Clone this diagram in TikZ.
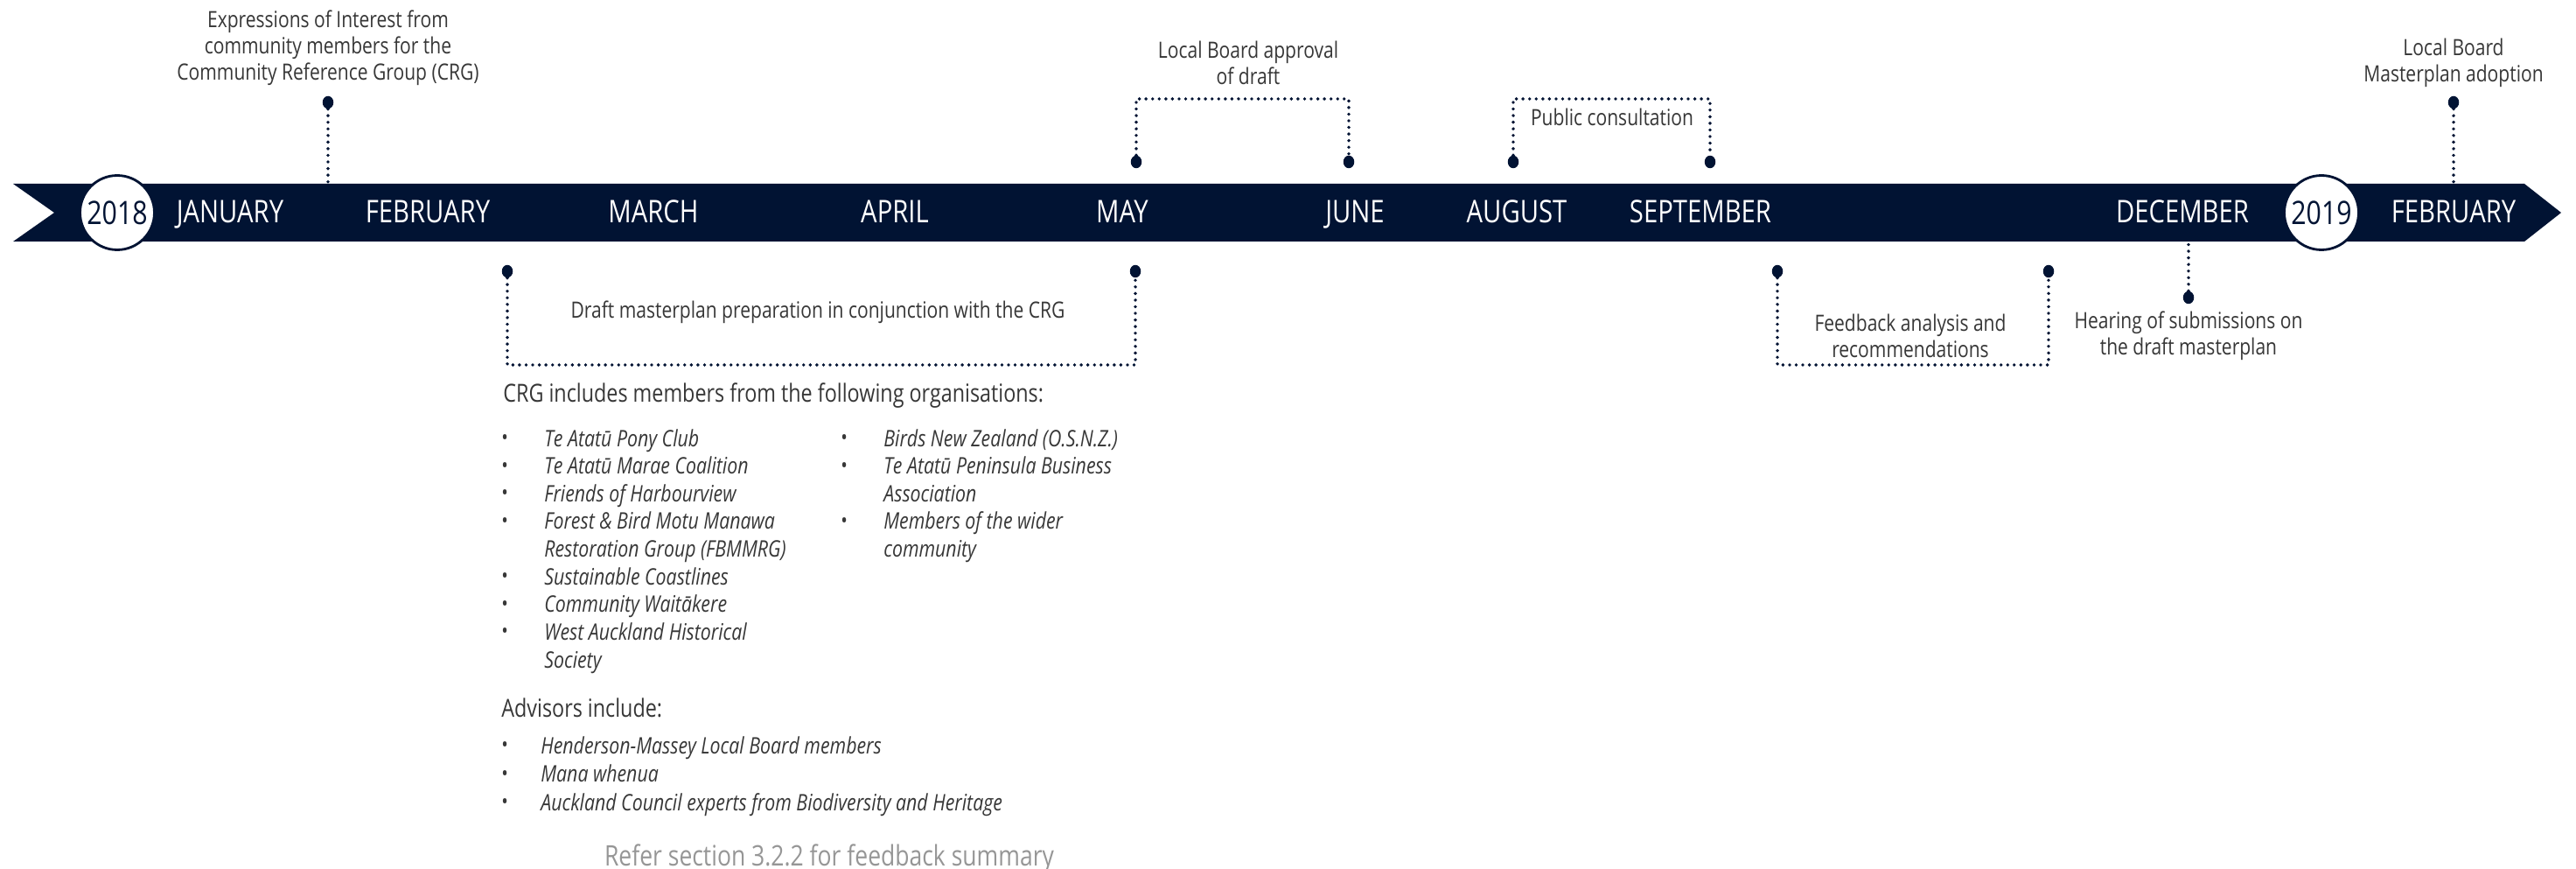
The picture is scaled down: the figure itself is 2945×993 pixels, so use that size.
\documentclass[tikz,border=0pt]{standalone}
\usepackage{fontspec}
\usepackage{array}
\setmainfont{Open Sans}[FakeStretch=0.82]
\usetikzlibrary{shapes.geometric, positioning}

\definecolor{navy}{RGB}{1,19,51}
\definecolor{ink}{RGB}{55,55,55}
\definecolor{notegray}{RGB}{150,150,150}

\newcommand{\bul}{\raisebox{0.1ex}{\fontsize{14}{14}\selectfont\textbullet}}

\begin{document}
\begin{tikzpicture}[
  x=0.02cm, y=-0.02cm,
  month/.style={text=white, anchor=base, inner sep=0, font=\fontsize{20.3}{22}\selectfont},
  year/.style={circle, draw=navy, line width=1.6pt, fill=white, minimum size=1.7cm,
    inner sep=0, text=navy, font=\fontsize{21}{22}\selectfont},
  pin/.style={ellipse, fill=navy, minimum width=0.25cm, minimum height=0.29cm, inner sep=0},
  dotline/.style={navy, line width=2.2pt, line cap=round, dash pattern=on 0pt off 4.3pt},
  note/.style={text=ink, align=center, inner sep=0, font=\fontsize{14.6}{17}\selectfont},
  listtext/.style={text=ink, anchor=base west, inner sep=0, font=\fontsize{14.8}{18}\selectfont},
  introtext/.style={text=ink, anchor=base west, inner sep=0, font=\fontsize{16.2}{18}\selectfont}
]
\useasboundingbox (0,0) rectangle (2945,993);

% the banner
\fill[navy] (15,210) -- (2886,210) -- (2928,243) -- (2886,276) -- (15,276) -- (62,243) -- cycle;

\node[year] (y2018) at (134,243) {2018};
\node[year] (y2019) at (2654,243) {2019};

\node[month] (jan) at (263,255) {JANUARY};
\node[month] (feb) at (489,255) {FEBRUARY};
\node[month] (mar) at (747,255) {MARCH};
\node[month] (apr) at (1023,255) {APRIL};
\node[month] (may) at (1283,255) {MAY};
\node[month] (jun) at (1549,255) {JUNE};
\node[month] (aug) at (1734,255) {AUGUST};
\node[month] (sep) at (1944,255) {SEPTEMBER};
\node[month] (dec) at (2495,255) {DECEMBER};
\node[month] (febb) at (2805,255) {FEBRUARY};

% above the banner
\node[note] (eoitxt) at (375,55) {Expressions of Interest from\\community members for the\\Community Reference Group (CRG)};
\node[pin] (eoipin) at (375,117) {};
\coordinate (eoiend) at (375,211);
\draw[dotline] (eoipin) -- (eoiend);

\node[note] (lbatxt) at (1427,72) {Local Board approval\\of draft};
\node[pin] (lbal) at (1299,185) {};
\node[pin] (lbar) at (1542,185) {};
\coordinate (lbatop) at (1299,113);
\draw[dotline] (lbal) -- (lbatop) -| (lbar);

\node[note] (pctxt) at (1843,134) {Public consultation};
\node[pin] (pcl) at (1730,185) {};
\node[pin] (pcr) at (1955,185) {};
\coordinate (pctop) at (1730,113);
\draw[dotline] (pcl) -- (pctop) -| (pcr);

\node[note] (adopttxt) at (2805,72) {Local Board\\Masterplan adoption};
\node[pin] (adoptpin) at (2805,117) {};
\coordinate (adoptend) at (2805,211);
\draw[dotline] (adoptpin) -- (adoptend);

% below the banner
\node[note] (drafttxt) at (935,357) {Draft masterplan preparation in conjunction with the CRG};
\node[pin] (draftl) at (580,310) {};
\node[pin] (draftr) at (1298,310) {};
\coordinate (draftbot) at (580,417);
\draw[dotline] (draftl) -- (draftbot) -| (draftr);

\node[note] (fbtxt) at (2184,384) {Feedback analysis and\\recommendations};
\node[pin] (fbl) at (2032,310) {};
\node[pin] (fbr) at (2342,310) {};
\coordinate (fbbot) at (2032,417);
\draw[dotline] (fbl) -- (fbbot) -| (fbr);

\node[note] (heartxt) at (2502,384) {Hearing of submissions on\\the draft masterplan};
\node[pin] (hearpin) at (2502,340) {};
\coordinate (hearend) at (2502,276);
\draw[dotline] (hearpin) -- (hearend);

% who is involved
\node[introtext] (crgintro) at (575,459) {CRG includes members from the following organisations:};
\node[listtext] (orgsa) at (573,510) {\begin{tabular}[t]{@{}p{0.98cm}@{}>{\itshape}l@{}}
\bul & Te Atatū Pony Club\\
\bul & Te Atatū Marae Coalition\\
\bul & Friends of Harbourview\\
\bul & Forest \& Bird Motu Manawa\\
     & Restoration Group (FBMMRG)\\
\bul & Sustainable Coastlines\\
\bul & Community Waitākere\\
\bul & West Auckland Historical\\
     & Society
\end{tabular}};
\node[listtext] (orgsb) at (961,510) {\begin{tabular}[t]{@{}p{0.98cm}@{}>{\itshape}l@{}}
\bul & Birds New Zealand (O.S.N.Z.)\\
\bul & Te Atatū Peninsula Business\\
     & Association\\
\bul & Members of the wider\\
     & community
\end{tabular}};

\node[introtext] (advintro) at (573,819) {Advisors include:};
\node[listtext, font=\fontsize{14.8}{18.6}\selectfont] (advisors) at (573,861) {\begin{tabular}[t]{@{}p{0.9cm}@{}>{\itshape}l@{}}
\bul & Henderson-Massey Local Board members\\
\bul & Mana whenua\\
\bul & Auckland Council experts from Biodiversity and Heritage
\end{tabular}};

\node[text=notegray, inner sep=0, font=\fontsize{18.4}{20}\selectfont] (refer) at (948,981) {Refer section 3.2.2 for feedback summary};
\end{tikzpicture}
\end{document}
